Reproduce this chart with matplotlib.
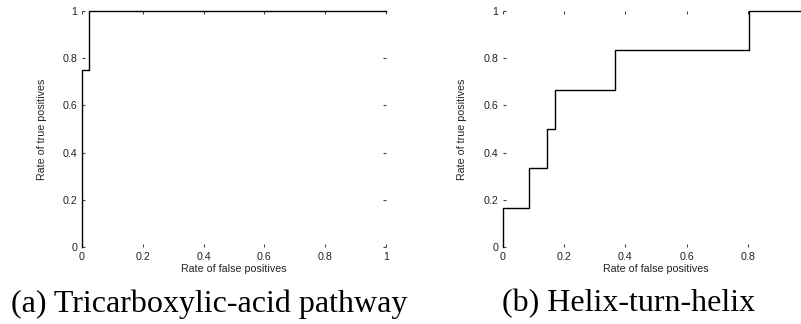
import matplotlib
matplotlib.use("Agg")
import matplotlib.pyplot as plt

# Data: ROC step curves (false positive rate, true positive rate)
tca_fpr = [0.0, 0.0, 0.0, 0.024, 0.024, 1.0]
tca_tpr = [0.0, 0.25, 0.75, 0.75, 1.0, 1.0]

hth_fpr = [0.0, 0.0, 0.086, 0.086, 0.143, 0.143, 0.171, 0.171, 0.366, 0.366, 0.805, 0.805, 1.0]
hth_tpr = [0.0, 0.1667, 0.1667, 0.3333, 0.3333, 0.5, 0.5, 0.6667, 0.6667, 0.8333, 0.8333, 1.0, 1.0]

tick_vals = [0, 0.2, 0.4, 0.6, 0.8, 1]
tick_labels = ["0", "0.2", "0.4", "0.6", "0.8", "1"]
captions = ["(a) Tricarboxylic-acid pathway", "(b) Helix-turn-helix"]
xlabel = "Rate of false positives"
ylabel = "Rate of true positives"

W, H = 801, 324
fig = plt.figure(figsize=(W / 100, H / 100), dpi=100)

sans = "Liberation Sans"
serif = "Liberation Serif"
FS = 7.7

def make_ax(left_px, width_px, xlabels):
    ax = fig.add_axes([left_px / W, (H - 247) / H, width_px / W, 236 / H])
    for s in ax.spines.values():
        s.set_visible(False)
    ax.set_xlim(0, 1)
    ax.set_ylim(0, 1)
    ax.set_xticks(tick_vals)
    ax.set_xticklabels(xlabels)
    ax.set_yticks(tick_vals)
    ax.set_yticklabels(tick_labels)
    ax.tick_params(direction="in", length=2.5, width=0.8, color="#444444",
                   top=True, right=True, labelsize=FS, pad=3.5)
    for lab in ax.get_xticklabels() + ax.get_yticklabels():
        lab.set_fontfamily(sans)
        lab.set_color("#222222")
    ax.set_xlabel(xlabel, fontsize=FS, family=sans, color="#222222")
    ax.set_ylabel(ylabel, fontsize=FS, family=sans, color="#222222")
    ax.xaxis.set_label_coords(0.5, -0.093)
    ax.xaxis.label.set_va("center")
    ax.yaxis.set_label_coords(-0.133, 0.5)
    ax.yaxis.label.set_va("center")
    return ax

ax1 = make_ax(82, 304, tick_labels)
ax1.plot(tca_fpr, tca_tpr, color="black", lw=1.0, clip_on=False)

# right panel: its x = 1 lies beyond the image edge, so that label is not shown
ax2 = make_ax(503, 306, tick_labels[:-1] + [""])
ax2.plot(hth_fpr, hth_tpr, color="black", lw=1.0, clip_on=False)

fig.text(209 / W, 1 - 304 / H, captions[0], family=serif, fontsize=23,
         ha="center", va="center")
fig.text(629 / W, 1 - 304 / H, captions[1], family=serif, fontsize=23,
         ha="center", va="center")

fig.savefig("out.png", dpi=100)
